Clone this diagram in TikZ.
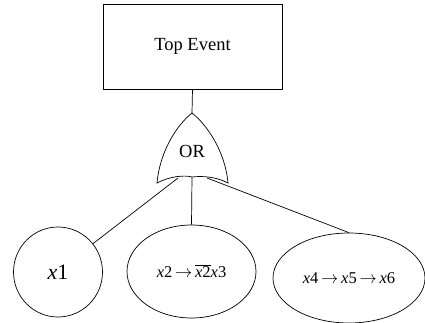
\documentclass[tikz,border=0pt]{standalone}
\usepackage{fontspec}
\setmainfont{Liberation Serif}
\usetikzlibrary{shapes.geometric}
\begin{document}
\begin{tikzpicture}[x=1pt,y=-1pt,line width=0.7pt,
  evt/.style={draw,ellipse,inner sep=0pt},
  lbl/.style={font=\fontsize{18.5}{20}\selectfont}]
\useasboundingbox (0,0) rectangle (425,323);
\node[draw,rectangle,minimum width=179pt,minimum height=85pt,inner sep=0pt,lbl] (top) at (192.5,46.5) {Top Event};
% OR gate
\coordinate (gtop) at (192,113);
\coordinate (gl) at (178,178);
\coordinate (gm) at (192,177);
\coordinate (gr) at (207,178);
\draw (gtop) .. controls (178,124) and (160,150) .. (157,183)
  .. controls (170,176) and (185,175) .. (192,177)
  .. controls (200,176) and (215,176) .. (228,183)
  .. controls (225,150) and (206,124) .. (gtop) -- cycle;
\node[lbl] (or) at (192,151) {OR};
\draw (top.south) -- (gtop);
\node[evt,minimum width=89pt,minimum height=90pt,font=\fontsize{22}{24}\selectfont] (e1) at (58,272) {\textit{x}1};
\node[evt,minimum width=129pt,minimum height=93pt,font=\fontsize{16.5}{18}\selectfont] (e2) at (191.5,271.5) {\textit{x}2\,$\rightarrow$\,$\overline{\hbox{\textit{x}2}}$\textit{x}3};
\node[evt,minimum width=152pt,minimum height=90pt,font=\fontsize{16.5}{18}\selectfont] (e3) at (349,278) {\textit{x}4\,$\rightarrow$\,\textit{x}5\,$\rightarrow$\,\textit{x}6};
\draw (gl) -- (e1.39);
\draw (gm) -- (e2.north);
\draw (gr) -- (e3.north);
\end{tikzpicture}
\end{document}
